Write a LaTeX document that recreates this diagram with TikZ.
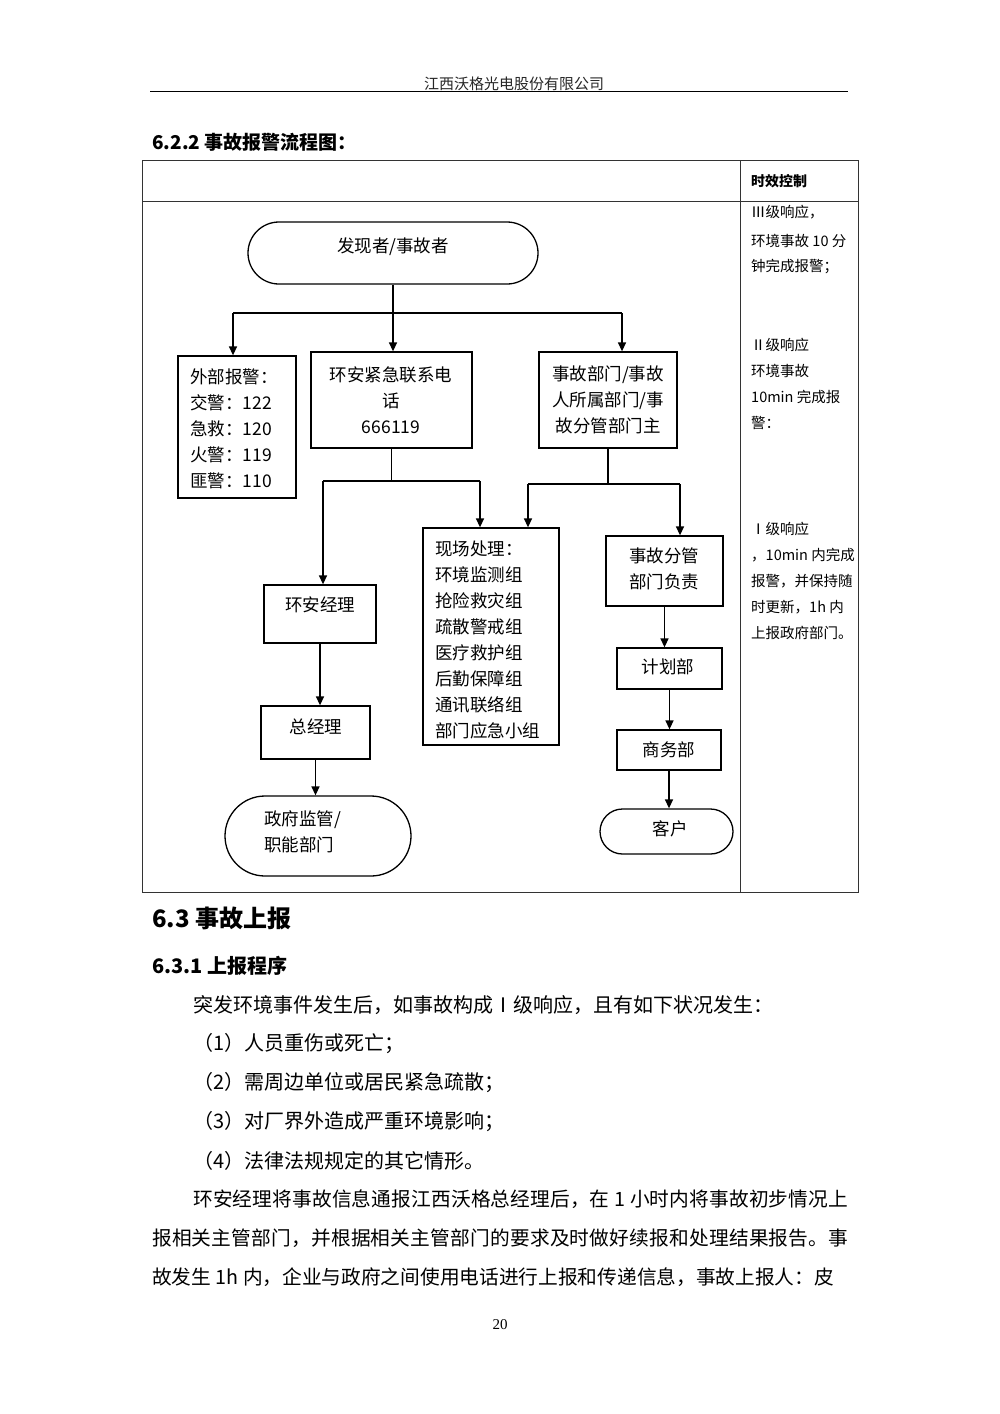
\documentclass[tikz,border=0pt]{standalone}
\usepackage{fontspec}
\setmainfont{Noto Sans CJK SC}
\newfontfamily\pnum{Liberation Serif}
\usetikzlibrary{arrows.meta}
\XeTeXlinebreaklocale "zh"
\XeTeXlinebreakskip=0pt plus 1pt minus 0.4pt
\tikzset{
  box/.style={draw=black, line width=1.3pt, inner sep=0pt, fill=none},
  conn/.style={line width=1.4pt},
  arr/.style={conn, -{Triangle[length=9pt,width=8pt]}},
  lbl/.style={inner sep=0pt, font=\fontsize{17.5}{26}\selectfont},
  side/.style={inner sep=0pt, anchor=west, font=\fontsize{14.5}{26}\selectfont},
  body/.style={inner sep=0pt, anchor=west, font=\fontsize{20}{39}\selectfont},
  tab/.style={draw=black!80, line width=1pt}
}
\begin{document}
\begin{tikzpicture}[x=1pt,y=-1pt]
\useasboundingbox[fill=white] (0,0) rectangle (1000,1414);

% page header
\node[inner sep=0pt, font=\fontsize{15}{15}\selectfont, text=black!85] (hdr) at (514,84) {江西沃格光电股份有限公司};
\draw[line width=0.9pt] (150,91) -- (848,91);

% title
\node[inner sep=0pt, anchor=west, font=\fontsize{19}{19}\selectfont\bfseries] (title) at (152,142) {6.2.2 事故报警流程图：};

% table frame
\draw[tab] (142,160) rectangle (858,892);
\draw[tab] (142,201) -- (858,201);
\draw[tab] (740,160) -- (740,892);
\node[inner sep=0pt, anchor=west, font=\fontsize{14}{14}\selectfont\bfseries] (tc) at (751,181) {时效控制};

% right column
\node[side] (r1) at (751,212) {Ⅲ级响应，};
\node[side] (r2) at (751,241) {环境事故 10 分};
\node[side] (r3) at (751,267) {钟完成报警；};
\node[side] (r4) at (751,345) {Ⅱ级响应};
\node[side] (r5) at (751,371) {环境事故};
\node[side] (r6) at (751,397) {10min 完成报};
\node[side] (r7) at (751,423) {警：};
\node[side] (r8) at (751,529) {Ⅰ级响应};
\node[side] (r9) at (751,555) {，10min 内完成};
\node[side] (r10) at (751,581) {报警，并保持随};
\node[side] (r11) at (751,607) {时更新，1h 内};
\node[side] (r12) at (751,633) {上报政府部门。};

% flow boxes
\node[box, minimum width=290pt, minimum height=62pt, rounded corners=31pt] (start) at (393,253) {};
\node[box, minimum width=118pt, minimum height=142pt] (ext) at (237,427) {};
\node[box, minimum width=161pt, minimum height=96pt] (tel) at (391.5,400) {};
\node[box, minimum width=138pt, minimum height=96pt] (dept) at (608,400) {};
\node[box, minimum width=112pt, minimum height=58pt] (hj) at (320,614) {};
\node[box, minimum width=136pt, minimum height=217pt] (site) at (491,636.5) {};
\node[box, minimum width=117pt, minimum height=70pt] (fg) at (664.5,571) {};
\node[box, minimum width=109pt, minimum height=53pt] (gm) at (315.5,732.5) {};
\node[box, minimum width=105pt, minimum height=41pt] (jh) at (669.5,668.5) {};
\node[box, minimum width=104pt, minimum height=40pt] (sw) at (669,750) {};
\node[box, minimum width=186pt, minimum height=80pt, rounded corners=40pt] (gov) at (318,836) {};
\node[box, minimum width=133pt, minimum height=45pt, rounded corners=22.5pt] (kh) at (666.5,831.5) {};

% labels
\node[lbl] (tstart) at (393,247) {发现者/事故者};
\node[lbl, anchor=west, align=left] (text) at (190,429) {外部报警：\\交警：122\\急救：120\\火警：119\\匪警：110};
\node[lbl, align=center] (ttel) at (391,400) {环安紧急联系电\\话\\666119};
\node[lbl, align=center] (tdept) at (608,400) {事故部门/事故\\人所属部门/事\\故分管部门主};
\node[lbl] (thj) at (320,605) {环安经理};
\node[lbl, anchor=west, align=left] (tsite) at (435,640) {现场处理：\\环境监测组\\抢险救灾组\\疏散警戒组\\医疗救护组\\后勤保障组\\通讯联络组\\部门应急小组};
\node[lbl, align=center] (tfg) at (664,569) {事故分管\\部门负责};
\node[lbl] (tgm) at (316,727) {总经理};
\node[lbl] (tjh) at (668,667) {计划部};
\node[lbl] (tsw) at (669,750) {商务部};
\node[lbl, anchor=west, align=left] (tgov) at (264,832) {政府监管/\\职能部门};
\node[lbl] (tkh) at (670,829) {客户};

% connectors
\coordinate (jL) at (233,313);
\coordinate (jR) at (622,313);
\draw[conn] (jL) -- (jR);
\draw[arr] (jL) -- (jL |- ext.north);
\draw[arr] (start.south) -- (start.south |- tel.north);
\draw[arr] (jR) -- (jR |- dept.north);

\coordinate (kL) at (323,481);
\coordinate (kR) at (480,481);
\draw[conn] (tel.south) -- (tel.south |- kL);
\draw[conn] (kL) -- (kR);
\draw[arr] (kL) -- (kL |- hj.north);
\draw[arr] (kR) -- (kR |- site.north);

\coordinate (mL) at (528,484);
\coordinate (mR) at (680,484);
\draw[conn] (dept.south) -- (dept.south |- mL);
\draw[conn] (mL) -- (mR);
\draw[arr] (mL) -- (mL |- site.north);
\draw[arr] (mR) -- (mR |- fg.north);

\draw[arr] (fg.south) -- (fg.south |- jh.north);
\draw[arr] (jh.south) -- (jh.south |- sw.north);
\draw[arr] (sw.south) -- (sw.south |- kh.north);
\draw[arr] (hj.south) -- (hj.south |- gm.north);
\draw[arr] (gm.south) -- (gm.south |- gov.north);

% section text
\node[inner sep=0pt, anchor=west, font=\fontsize{24}{24}\selectfont\bfseries] (s63) at (152,918) {6.3 事故上报};
\node[inner sep=0pt, anchor=west, font=\fontsize{20}{20}\selectfont\bfseries] (s631) at (152,966) {6.3.1 上报程序};
\node[body] (b1) at (193,1005) {突发环境事件发生后，如事故构成Ⅰ级响应，且有如下状况发生：};
\node[body] (b2) at (193,1044) {（1）人员重伤或死亡；};
\node[body] (b3) at (193,1083) {（2）需周边单位或居民紧急疏散；};
\node[body] (b4) at (193,1122) {（3）对厂界外造成严重环境影响；};
\node[body] (b5) at (193,1161) {（4）法律法规规定的其它情形。};
\node[inner sep=0pt, anchor=north west, text width=696pt, align=justify, font=\fontsize{19.7}{39}\selectfont] (para) at (152,1190)
  {\parfillskip=0pt\hspace*{41pt}环安经理将事故信息通报江西沃格总经理后，在 1 小时内将事故初步情况上\linebreak 报相关主管部门，并根据相关主管部门的要求及时做好续报和处理结果报告。事\linebreak 故发生 1h 内，企业与政府之间使用电话进行上报和传递信息，事故上报人：皮};

% page number
\node[inner sep=0pt, font=\pnum\fontsize{15}{15}\selectfont] (pg) at (500,1325) {20};
\end{tikzpicture}
\end{document}
